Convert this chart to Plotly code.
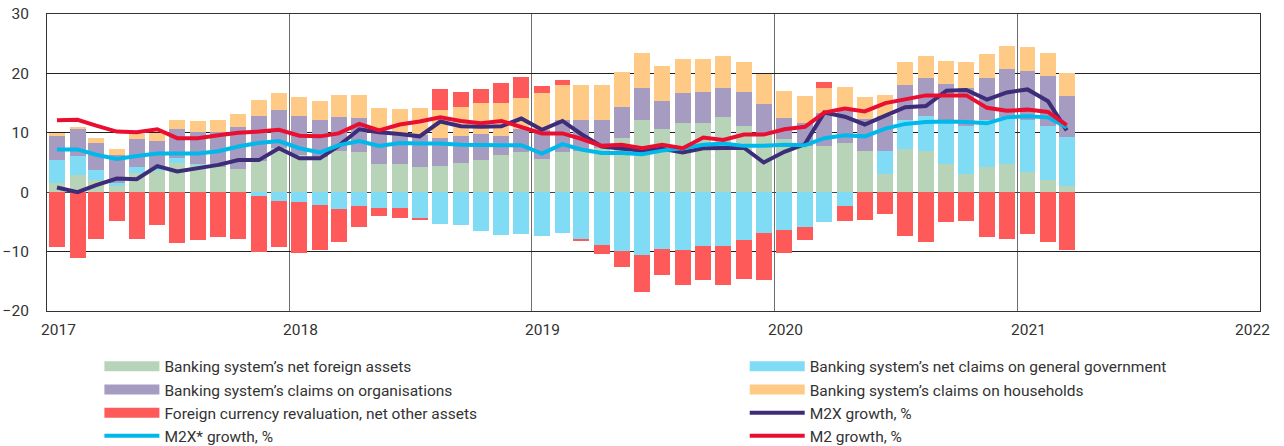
import pandas as pd
import plotly.graph_objects as go

# ---------------- data ----------------
months = pd.date_range("2017-01-01", periods=51, freq="MS") + pd.Timedelta(days=15)

net_foreign_assets = [1.5, 2.9, 2.1, 1.0, 3.3, 3.7, 4.9, 4.6, 4.2, 3.9, 5.2, 7.5,
                      6.3, 6.0, 6.9, 6.7, 4.7, 4.7, 4.2, 4.4, 4.9, 5.4, 6.3, 6.7,
                      5.6, 6.8, 7.0, 7.5, 9.2, 12.1, 10.6, 11.7, 11.6, 12.7, 11.1, 9.8,
                      9.0, 7.8, 7.8, 8.3, 7.0, 3.1, 7.3, 6.9, 4.7, 3.1, 4.2, 4.7,
                      3.4, 2.1, 1.0]
net_claims_gov = [3.9, 3.2, 1.7, 0.6, 0.9, 0.2, 0.8, 0.2, 0.0, 0.0, -0.6, -1.4,
                  -1.6, -2.1, -2.8, -2.4, -2.7, -2.7, -4.5, -5.4, -5.6, -6.5, -7.2, -7.0,
                  -7.4, -6.9, -7.9, -8.9, -9.9, -10.5, -9.5, -9.7, -9.0, -9.1, -8.1, -6.9,
                  -6.3, -5.8, -5.0, -2.3, 0.0, 3.9, 4.8, 5.9, 7.2, 8.1, 7.9, 7.9,
                  8.7, 9.0, 8.3]
claims_organisations = [4.2, 4.5, 4.5, 4.6, 4.7, 4.7, 4.9, 5.4, 6.0, 7.0, 7.7, 6.3,
                        6.6, 6.1, 5.7, 5.8, 5.3, 5.2, 5.4, 4.7, 4.5, 4.4, 3.1, 3.9,
                        4.8, 5.3, 5.2, 4.6, 5.1, 5.4, 4.8, 5.0, 5.3, 4.8, 5.7, 5.0,
                        3.5, 3.8, 5.5, 5.3, 5.3, 5.9, 6.0, 6.4, 6.3, 6.4, 7.2, 8.1,
                        8.3, 8.4, 6.9]
claims_households = [0.3, 0.4, 0.8, 1.1, 0.9, 1.3, 1.5, 1.8, 2.0, 2.3, 2.7, 2.9,
                     3.2, 3.3, 3.8, 3.8, 4.1, 4.1, 4.5, 4.8, 5.0, 5.3, 5.6, 5.2,
                     6.3, 6.0, 5.9, 6.0, 5.9, 5.9, 5.8, 5.7, 5.5, 5.4, 5.2, 5.1,
                     4.6, 4.6, 4.3, 4.1, 3.7, 3.5, 3.8, 3.8, 3.9, 4.3, 4.0, 3.9,
                     4.0, 4.0, 3.9]
fx_revaluation = [-9.2, -11.1, -7.9, -4.9, -7.9, -5.6, -8.6, -8.0, -7.6, -7.9, -9.4, -7.8,
                  -8.7, -7.7, -5.5, -3.4, -1.3, -1.6, -0.2, 3.4, 2.4, 2.3, 3.4, 3.6,
                  1.1, 0.8, -0.3, -1.5, -2.7, -6.3, -4.5, -5.9, -5.8, -6.5, -6.5, -7.8,
                  -3.9, -2.2, 1.0, -2.6, -4.6, -3.7, -7.3, -8.4, -5.1, -4.9, -7.6, -7.9,
                  -7.1, -8.3, -9.7]

m2x_growth = [0.8, 0.0, 1.2, 2.3, 2.2, 4.4, 3.5, 4.0, 4.6, 5.4, 5.4, 7.4,
              5.7, 5.7, 7.8, 10.6, 10.1, 9.8, 9.4, 11.9, 11.1, 11.0, 11.1, 12.4,
              10.5, 12.0, 9.8, 7.7, 7.4, 7.0, 7.3, 6.7, 7.4, 7.4, 7.5, 5.0,
              6.8, 8.1, 13.4, 12.7, 11.4, 12.9, 14.3, 14.5, 17.1, 17.2, 15.6, 16.8,
              17.3, 15.3, 10.4]
m2x_star_growth = [7.2, 7.2, 6.3, 5.6, 6.1, 6.5, 6.5, 6.5, 6.9, 7.7, 8.3, 8.6,
                   7.4, 6.7, 7.9, 8.6, 7.8, 8.3, 8.2, 8.2, 8.0, 7.9, 7.9, 7.9,
                   6.5, 8.1, 7.2, 6.6, 6.6, 6.4, 7.0, 7.4, 8.0, 8.2, 7.8, 7.8,
                   8.0, 7.9, 9.1, 9.6, 9.4, 10.7, 11.5, 11.8, 11.9, 11.8, 11.6, 12.6,
                   12.8, 12.6, 10.9]
m2_growth = [12.1, 12.2, 11.2, 10.2, 10.1, 10.6, 9.1, 9.1, 9.6, 10.0, 10.2, 10.5,
             9.5, 9.4, 9.9, 11.5, 10.4, 11.4, 11.9, 12.6, 12.0, 11.6, 12.0, 10.9,
             9.9, 9.9, 9.0, 7.8, 8.0, 7.4, 8.0, 7.4, 9.2, 8.8, 9.7, 9.7,
             10.6, 11.0, 13.4, 14.1, 13.6, 15.0, 15.7, 16.3, 16.3, 16.3, 14.2, 13.7,
             13.9, 13.5, 11.3]

year_ticks = ["2017-01-01", "2018-01-01", "2019-01-01", "2020-01-01", "2021-01-01", "2022-01-01"]
year_labels = ["2017", "2018", "2019", "2020", "2021", "2022"]
y_ticks = [-20, -10, 0, 10, 20, 30]

# ---------------- styling ----------------
FONT = "Roboto, Open Sans, sans-serif"
TXT = "#333333"
bar_series = [
    ("Banking system’s net foreign assets", net_foreign_assets, "#b7d4b8", "legend"),
    ("Banking system’s net claims on general government", net_claims_gov, "#80dcf5", "legend2"),
    ("Banking system’s claims on organisations", claims_organisations, "#a69bc0", "legend"),
    ("Banking system’s claims on households", claims_households, "#ffca86", "legend2"),
    ("Foreign currency revaluation, net other assets", fx_revaluation, "#ff5a5a", "legend"),
]
line_series = [
    ("M2X growth, %", m2x_growth, "#3d2d78", "legend2"),
    ("M2X* growth, %", m2x_star_growth, "#00b8ea", "legend"),
    ("M2 growth, %", m2_growth, "#ea0f30", "legend2"),
]

fig = go.Figure()
bar_width_ms = 24 * 86400000
for i, (name, vals, color, lg) in enumerate(bar_series):
    fig.add_trace(go.Bar(x=months, y=vals, name=name, marker_color=color,
                         marker_line_width=0, width=bar_width_ms, showlegend=False))
    # legend swatch (wide rectangle like the original)
    fig.add_trace(go.Scatter(x=[None], y=[None], mode="lines", name=name,
                             line=dict(color=color, width=10), legendrank=i + 1,
                             legend=lg, legendgroup=name, showlegend=True))
for j, (name, vals, color, lg) in enumerate(line_series):
    fig.add_trace(go.Scatter(x=months, y=vals, name=name, mode="lines",
                             line=dict(color=color, width=4), legendrank=10 + j,
                             legend=lg, legendgroup=name))

leg_common = dict(orientation="v", yanchor="top", xanchor="left", y=-0.1305,
                  itemwidth=55, tracegroupgap=0, traceorder="grouped",
                  font=dict(family=FONT, size=15.5, color=TXT), bgcolor="rgba(0,0,0,0)")
fig.update_layout(
    width=1284, height=446,
    barmode="relative", bargap=0,
    plot_bgcolor="white", paper_bgcolor="white",
    margin=dict(l=47, r=24, t=14, b=135, autoexpand=False),
    font=dict(family=FONT, size=15, color=TXT),
    legend=dict(x=0.0432, **leg_common),
    legend2=dict(x=0.5752, **leg_common),
    showlegend=True,
)
fig.update_xaxes(
    type="date", range=["2017-01-01", "2022-01-01"],
    tickvals=year_ticks, showticklabels=False,
    showgrid=True, gridcolor="#6e6e6e", gridwidth=1,
    showline=True, linecolor="#333333", linewidth=1, mirror=True, ticks="",
)
fig.update_yaxes(
    range=[-20, 30], tickvals=y_ticks,
    showgrid=True, gridcolor="#222222", gridwidth=1,
    zeroline=True, zerolinecolor="#444444", zerolinewidth=1,
    showline=True, linecolor="#333333", linewidth=1, mirror=True,
    ticks="outside", ticklen=14, tickcolor="rgba(0,0,0,0)", ticklabeloverflow="allow",
    tickfont=dict(family=FONT, size=15.5, color=TXT),
)
for val, lab in zip(year_ticks, year_labels):
    fig.add_annotation(x=val, y=0, xref="x", yref="paper", text=lab, showarrow=False,
                       yanchor="top", xanchor="center", yshift=-8,
                       xshift=(11 if lab != year_labels[-1] else -8),
                       font=dict(family=FONT, size=15.5, color=TXT))

# remove the default 8px page margin so the figure fills the window exactly
fig.write_html("out.html", config={"displayModeBar": False},
               post_script="document.body.style.margin='0px';document.body.style.overflow='hidden';")
